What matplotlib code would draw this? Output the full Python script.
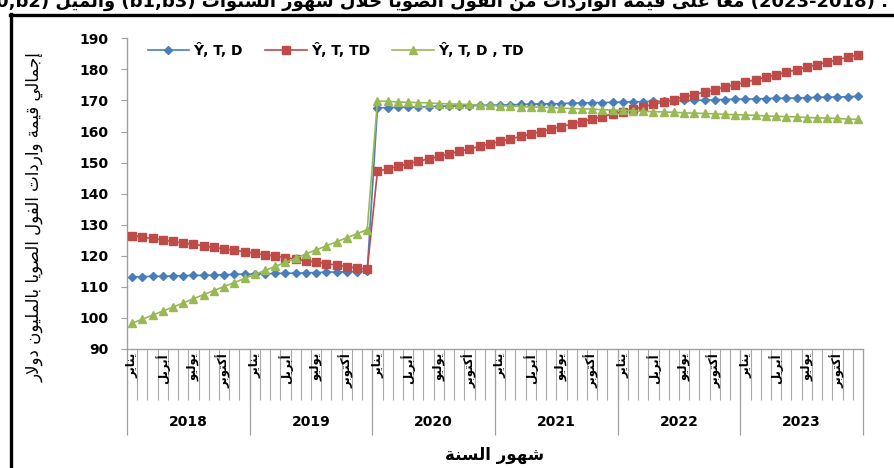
import matplotlib
matplotlib.use("Agg")
import matplotlib.pyplot as plt
from matplotlib.lines import Line2D

# ---------------- data ----------------
years = ["2018", "2019", "2020", "2021", "2022", "2023"]
month_labels = ["يناير", "أبريل", "يوليو", "أكتوبر"]
month_label_pos = [0, 3, 6, 9]
series_names = ["Ŷ, T, D", "Ŷ, T, TD", "Ŷ, T, D , TD"]

y_t_d = [113.2, 113.3, 113.4, 113.4, 113.5, 113.6, 113.7, 113.7, 113.8, 113.9, 114.0, 114.1,
         114.1, 114.2, 114.3, 114.4, 114.4, 114.5, 114.6, 114.7, 114.8, 114.8, 114.9, 115.0,
         167.6, 167.7, 167.8, 167.8, 167.9, 168.0, 168.1, 168.2, 168.2, 168.3, 168.4, 168.5,
         168.5, 168.6, 168.7, 168.8, 168.9, 168.9, 169.0, 169.1, 169.2, 169.3, 169.3, 169.4,
         169.5, 169.6, 169.6, 169.7, 169.8, 169.9, 170.0, 170.0, 170.1, 170.2, 170.3, 170.4,
         170.4, 170.5, 170.6, 170.7, 170.7, 170.8, 170.9, 171.0, 171.1, 171.1, 171.2, 171.3]

y_t_td = [126.5, 126.0, 125.6, 125.1, 124.6, 124.1, 123.7, 123.2, 122.7, 122.2, 121.8, 121.3,
          120.8, 120.3, 119.9, 119.4, 118.9, 118.4, 118.0, 117.5, 117.0, 116.5, 116.1, 115.6,
          147.2, 148.0, 148.8, 149.6, 150.4, 151.2, 152.0, 152.8, 153.6, 154.4, 155.2, 156.0,
          156.8, 157.6, 158.4, 159.2, 160.0, 160.8, 161.6, 162.4, 163.2, 164.0, 164.8, 165.6,
          166.4, 167.2, 168.0, 168.7, 169.5, 170.3, 171.1, 171.9, 172.7, 173.5, 174.3, 175.1,
          175.9, 176.7, 177.5, 178.3, 179.1, 179.9, 180.7, 181.5, 182.3, 183.1, 183.9, 184.7]

y_t_d_td = [98.3, 99.6, 100.9, 102.2, 103.5, 104.8, 106.2, 107.5, 108.8, 110.1, 111.4, 112.7,
            114.0, 115.3, 116.6, 117.9, 119.2, 120.6, 121.9, 123.2, 124.5, 125.8, 127.1, 128.4,
            169.8, 169.7, 169.5, 169.4, 169.3, 169.2, 169.0, 168.9, 168.8, 168.7, 168.5, 168.4,
            168.3, 168.2, 168.0, 167.9, 167.8, 167.7, 167.5, 167.4, 167.3, 167.2, 167.0, 166.9,
            166.8, 166.7, 166.5, 166.4, 166.3, 166.2, 166.0, 165.9, 165.8, 165.7, 165.5, 165.4,
            165.3, 165.2, 165.0, 164.9, 164.8, 164.7, 164.5, 164.4, 164.3, 164.2, 164.0, 163.9]

# ---------------- Arabic shaping (presentation forms, visual order) ----------------
_F = {
    'ء': ('\uFE80', None, None, None), 'آ': ('\uFE81', '\uFE82', None, None),
    'أ': ('\uFE83', '\uFE84', None, None), 'ؤ': ('\uFE85', '\uFE86', None, None),
    'إ': ('\uFE87', '\uFE88', None, None), 'ئ': ('\uFE89', '\uFE8A', '\uFE8B', '\uFE8C'),
    'ا': ('\uFE8D', '\uFE8E', None, None), 'ب': ('\uFE8F', '\uFE90', '\uFE91', '\uFE92'),
    'ة': ('\uFE93', '\uFE94', None, None), 'ت': ('\uFE95', '\uFE96', '\uFE97', '\uFE98'),
    'ث': ('\uFE99', '\uFE9A', '\uFE9B', '\uFE9C'), 'ج': ('\uFE9D', '\uFE9E', '\uFE9F', '\uFEA0'),
    'ح': ('\uFEA1', '\uFEA2', '\uFEA3', '\uFEA4'), 'خ': ('\uFEA5', '\uFEA6', '\uFEA7', '\uFEA8'),
    'د': ('\uFEA9', '\uFEAA', None, None), 'ذ': ('\uFEAB', '\uFEAC', None, None),
    'ر': ('\uFEAD', '\uFEAE', None, None), 'ز': ('\uFEAF', '\uFEB0', None, None),
    'س': ('\uFEB1', '\uFEB2', '\uFEB3', '\uFEB4'), 'ش': ('\uFEB5', '\uFEB6', '\uFEB7', '\uFEB8'),
    'ص': ('\uFEB9', '\uFEBA', '\uFEBB', '\uFEBC'), 'ض': ('\uFEBD', '\uFEBE', '\uFEBF', '\uFEC0'),
    'ط': ('\uFEC1', '\uFEC2', '\uFEC3', '\uFEC4'), 'ظ': ('\uFEC5', '\uFEC6', '\uFEC7', '\uFEC8'),
    'ع': ('\uFEC9', '\uFECA', '\uFECB', '\uFECC'), 'غ': ('\uFECD', '\uFECE', '\uFECF', '\uFED0'),
    'ف': ('\uFED1', '\uFED2', '\uFED3', '\uFED4'), 'ق': ('\uFED5', '\uFED6', '\uFED7', '\uFED8'),
    'ك': ('\uFED9', '\uFEDA', '\uFEDB', '\uFEDC'), 'ل': ('\uFEDD', '\uFEDE', '\uFEDF', '\uFEE0'),
    'م': ('\uFEE1', '\uFEE2', '\uFEE3', '\uFEE4'), 'ن': ('\uFEE5', '\uFEE6', '\uFEE7', '\uFEE8'),
    'ه': ('\uFEE9', '\uFEEA', '\uFEEB', '\uFEEC'), 'و': ('\uFEED', '\uFEEE', None, None),
    'ى': ('\uFEEF', '\uFEF0', None, None), 'ي': ('\uFEF1', '\uFEF2', '\uFEF3', '\uFEF4'),
}
_LA = {'ا': ('\uFEFB', '\uFEFC'), 'أ': ('\uFEF7', '\uFEF8'),
       'إ': ('\uFEF9', '\uFEFA'), 'آ': ('\uFEF5', '\uFEF6')}


def _shape(text):
    units = []
    i = 0
    while i < len(text):
        c = text[i]
        if c == 'ل' and i + 1 < len(text) and text[i + 1] in _LA:
            units.append(('LA', text[i + 1]))
            i += 2
        else:
            units.append((c, None))
            i += 1

    def joins_next(u):
        return u[0] != 'LA' and u[0] in _F and _F[u[0]][2] is not None

    def joins(u):
        return u[0] == 'LA' or (u[0] in _F and u[0] != 'ء')

    out = []
    for k, u in enumerate(units):
        prev = units[k - 1] if k > 0 else None
        nxt = units[k + 1] if k + 1 < len(units) else None
        cp = prev is not None and joins_next(prev) and joins(u)
        cn = nxt is not None and joins_next(u) and joins(nxt)
        if u[0] == 'LA':
            out.append(_LA[u[1]][1 if cp else 0])
        elif u[0] in _F:
            f = _F[u[0]]
            out.append(f[3] if (cp and cn) else f[1] if cp else f[2] if cn else f[0])
        else:
            out.append(u[0])
    return ''.join(out)


def ar(text):
    return _shape(text)[::-1]


# ---------------- figure ----------------
W, H = 895, 468
fig = plt.figure(figsize=(W / 100, H / 100), dpi=100)
L, R, T, B = 127, 863, 38.3, 349
ax = fig.add_axes([L / W, 1 - B / H, (R - L) / W, (B - T) / H])

n = len(y_t_d)
x = [i + 0.5 for i in range(n)]
colors = ["#4A7EBB", "#BE4B48", "#98B954"]
ax.plot(x, y_t_d, color=colors[0], lw=1.2, marker='D', ms=3.8, label=series_names[0], zorder=3)
ax.plot(x, y_t_td, color=colors[1], lw=1.2, marker='s', ms=5.6, label=series_names[1], zorder=3)
ax.plot(x, y_t_d_td, color=colors[2], lw=1.2, marker='^', ms=6.0, label=series_names[2], zorder=4)

ax.set_xlim(0, n)
ax.set_ylim(90, 190)
ax.set_yticks(range(90, 191, 10))
ax.tick_params(axis='y', length=4.5, width=0.8, color='#A0A0A0', pad=9,
               labelsize=10)
for lab in ax.get_yticklabels():
    lab.set_fontweight('bold')
ax.set_xticks([])
for s in ['top', 'right']:
    ax.spines[s].set_visible(False)
for s in ['left', 'bottom']:
    ax.spines[s].set_color('#A0A0A0')
    ax.spines[s].set_linewidth(1.0)

axh = B - T
tr = ax.get_xaxis_transform()
# month ticks & year separators
ax.vlines(range(0, n + 1), -51 / axh, 0, transform=tr, colors='#A8A8A8', lw=0.8, clip_on=False)
ax.vlines(range(0, n + 1, 12), -86 / axh, 0, transform=tr, colors='#A0A0A0', lw=0.9, clip_on=False)

for yi, yr in enumerate(years):
    for m, lab in zip(month_label_pos, month_labels):
        ax.text(yi * 12 + m + 0.5, -4 / axh, ar(lab), transform=tr, rotation=90,
                ha='center', va='top', fontsize=8.5, fontweight='bold')
    ax.text(yi * 12 + 6, -73 / axh, yr, transform=tr, ha='center', va='center',
            fontsize=10, fontweight='bold')

leg = ax.legend(loc='center left', bbox_to_anchor=(0.028, 0.962), ncol=3, frameon=False,
                borderaxespad=0, borderpad=0, handlelength=3.0, handletextpad=0.3,
                columnspacing=1.6, prop={'weight': 'bold', 'size': 10})

fig.text(495 / W, 1 - 455 / H, ar("شهور السنة"), ha='center', va='center',
         fontsize=12, fontweight='bold')
fig.text(35 / W, 1 - 217 / H, ar("إجمالي قيمة واردات الفول الصويا بالمليون دولار"),
         rotation=90, ha='center', va='center', fontsize=12)

title = "(b0,b2) " + ar("والميل") + " (b1,b3) " + \
    ar("معا على قيمة الواردات من الفول الصويا خلال شهور السنوات") + " (2023-2018) ."
fig.text(888 / W, 1 - 7 / H, title, ha='right', va='baseline', fontsize=13, fontweight='bold')

# black frame
fig.add_artist(Line2D([11.5 / W, 11.5 / W], [0, 1 - 14 / H], color='black', lw=2.4))
fig.add_artist(Line2D([10 / W, 1], [1 - 15 / H, 1 - 15 / H], color='black', lw=2.4))

fig.savefig("out.png", dpi=100)
